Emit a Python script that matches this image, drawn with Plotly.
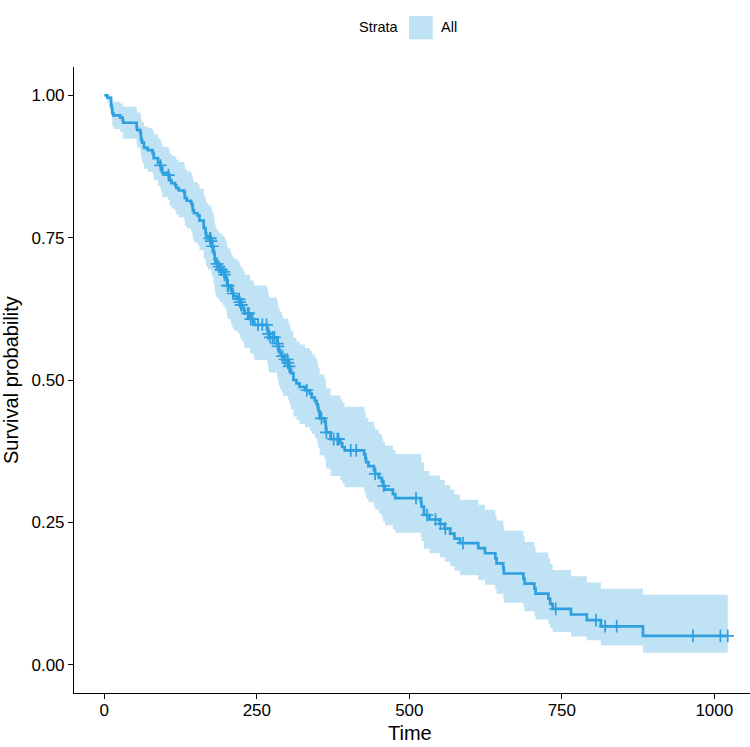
import plotly.graph_objects as go

# Kaplan-Meier estimate (event times, survival, 95% CI)
time = [5, 11, 12, 13, 15, 26, 30, 31, 53, 54, 59, 60, 61, 62, 65, 71, 79, 81, 88, 92,
        93, 95, 105, 107, 110, 116, 118, 122, 131, 132, 135, 142, 144, 145, 147, 153, 156, 163, 166, 167,
        170, 175, 176, 177, 179, 180, 181, 182, 183, 186, 189, 194, 197, 199, 201, 202, 207, 208, 210, 212,
        218, 222, 223, 226, 229, 230, 239, 245, 246, 267, 268, 269, 270, 283, 284, 285, 286, 288, 291, 293,
        301, 303, 305, 306, 310, 315, 320, 329, 337, 340, 345, 348, 350, 351, 353, 361, 363, 364, 371, 387, 390,
        394, 426, 428, 429, 433, 442, 444, 450, 455, 457, 460, 473, 477, 519, 520, 524, 533, 550, 558, 567,
        574, 583, 613, 624, 641, 643, 654, 655, 687, 689, 705, 707, 728, 731, 735, 765, 791, 814, 883]
surv = [0.996, 0.982, 0.978, 0.969, 0.965, 0.961, 0.956, 0.952, 0.943, 0.939, 0.934, 0.925, 0.921, 0.917, 0.908, 0.904, 0.899, 0.890, 0.882, 0.877,
        0.873, 0.864, 0.860, 0.851, 0.846, 0.842, 0.837, 0.833, 0.829, 0.820, 0.815, 0.811, 0.806, 0.798, 0.793, 0.789, 0.780, 0.767, 0.758, 0.753,
        0.749, 0.744, 0.740, 0.735, 0.726, 0.722, 0.713, 0.708, 0.704, 0.699, 0.694, 0.690, 0.685, 0.680, 0.671, 0.666, 0.661, 0.657, 0.652, 0.647,
        0.642, 0.637, 0.632, 0.627, 0.622, 0.617, 0.607, 0.602, 0.597, 0.591, 0.586, 0.581, 0.575, 0.570, 0.564, 0.559, 0.553, 0.547, 0.542, 0.536,
        0.530, 0.524, 0.518, 0.512, 0.500, 0.4939, 0.4880, 0.4820, 0.4761, 0.4692, 0.4633, 0.4574, 0.4514, 0.4455, 0.4327, 0.4267, 0.4149, 0.4080, 0.3961, 0.3892, 0.3823,
        0.3764, 0.3694, 0.3625, 0.3556, 0.3487, 0.3418, 0.3349, 0.3279, 0.3210, 0.3141, 0.3072, 0.2993, 0.2924, 0.2855, 0.2776, 0.2628, 0.2549, 0.2470, 0.2390, 0.2302,
        0.2213, 0.2134, 0.2045, 0.1956, 0.1867, 0.1778, 0.1689, 0.1600, 0.1511, 0.1422, 0.1334, 0.1245, 0.1156, 0.1067, 0.0978, 0.0879, 0.0780, 0.0672, 0.0504]
lower = [0.987, 0.966, 0.959, 0.947, 0.941, 0.936, 0.930, 0.924, 0.913, 0.908, 0.903, 0.892, 0.887, 0.881, 0.871, 0.866, 0.861, 0.851, 0.841, 0.836,
         0.831, 0.821, 0.816, 0.806, 0.801, 0.796, 0.791, 0.786, 0.781, 0.771, 0.766, 0.761, 0.757, 0.747, 0.742, 0.737, 0.728, 0.713, 0.704, 0.699,
         0.694, 0.690, 0.685, 0.680, 0.670, 0.666, 0.656, 0.651, 0.646, 0.642, 0.637, 0.632, 0.627, 0.622, 0.612, 0.607, 0.602, 0.597, 0.592, 0.587,
         0.582, 0.577, 0.572, 0.567, 0.561, 0.556, 0.546, 0.540, 0.535, 0.529, 0.524, 0.518, 0.513, 0.507, 0.501, 0.496, 0.490, 0.484, 0.478, 0.472,
         0.466, 0.460, 0.454, 0.448, 0.436, 0.4293, 0.4229, 0.4170, 0.4111, 0.4052, 0.3983, 0.3924, 0.3865, 0.3806, 0.3678, 0.3619, 0.3500, 0.3441, 0.3314, 0.3245, 0.3185,
         0.3116, 0.3047, 0.2988, 0.2919, 0.2850, 0.2781, 0.2722, 0.2653, 0.2584, 0.2516, 0.2447, 0.2378, 0.2318, 0.2240, 0.2171, 0.2033, 0.1954, 0.1885, 0.1806, 0.1727,
         0.1648, 0.1569, 0.1480, 0.1401, 0.1322, 0.1244, 0.1165, 0.1086, 0.1007, 0.0938, 0.0859, 0.0790, 0.0711, 0.0642, 0.0573, 0.0494, 0.0425, 0.0336, 0.0207]
upper = [1.000, 1.000, 0.997, 0.992, 0.989, 0.986, 0.983, 0.980, 0.974, 0.970, 0.967, 0.960, 0.957, 0.953, 0.946, 0.943, 0.939, 0.932, 0.925, 0.921,
         0.917, 0.910, 0.906, 0.898, 0.894, 0.891, 0.887, 0.883, 0.879, 0.871, 0.867, 0.863, 0.859, 0.852, 0.848, 0.844, 0.836, 0.824, 0.816, 0.811,
         0.807, 0.803, 0.799, 0.795, 0.787, 0.783, 0.774, 0.770, 0.766, 0.761, 0.757, 0.753, 0.749, 0.744, 0.735, 0.731, 0.726, 0.722, 0.717, 0.713,
         0.708, 0.704, 0.699, 0.694, 0.690, 0.685, 0.675, 0.670, 0.666, 0.661, 0.656, 0.651, 0.645, 0.640, 0.635, 0.630, 0.624, 0.619, 0.614, 0.608,
         0.603, 0.597, 0.591, 0.586, 0.574, 0.5682, 0.5622, 0.5563, 0.5513, 0.5453, 0.5394, 0.5334, 0.5275, 0.5216, 0.5096, 0.5037, 0.4908, 0.4849, 0.4729, 0.4660, 0.4601,
         0.4531, 0.4462, 0.4393, 0.4333, 0.4264, 0.4195, 0.4125, 0.4056, 0.3986, 0.3917, 0.3848, 0.3768, 0.3699, 0.3630, 0.3550, 0.3402, 0.3323, 0.3243, 0.3154, 0.3075,
         0.2986, 0.2897, 0.2808, 0.2719, 0.2630, 0.2531, 0.2442, 0.2353, 0.2254, 0.2155, 0.2066, 0.1967, 0.1868, 0.1769, 0.1660, 0.1552, 0.1443, 0.1334, 0.1225]

# censored observations (time, survival at that time)
censor_time = [92, 105, 173, 174, 175, 177, 185, 188, 191, 192, 196, 197, 202, 203, 211, 221, 222, 224, 225, 235,
               237, 240, 243, 252, 259, 266, 269, 272, 276, 279, 284, 285, 292, 296, 300, 301, 303, 332, 356, 364,
               376, 382, 384, 404, 413, 444, 458, 511, 529, 543, 551, 559, 588, 740, 806, 821, 840, 965, 1010, 1022]
censor_surv = [0.877, 0.860, 0.749, 0.749, 0.744, 0.735, 0.704, 0.699, 0.694, 0.694, 0.690, 0.685, 0.666, 0.666, 0.652, 0.642, 0.637, 0.632, 0.632, 0.617,
               0.617, 0.607, 0.607, 0.597, 0.597, 0.597, 0.581, 0.575, 0.575, 0.575, 0.564, 0.559, 0.542, 0.536, 0.536, 0.530, 0.524, 0.4820, 0.4327, 0.4080,
               0.3961, 0.3961, 0.3961, 0.3764, 0.3764, 0.3349, 0.3141, 0.2924, 0.2628, 0.2549, 0.2470, 0.2390, 0.2134, 0.0978, 0.0780, 0.0672, 0.0672, 0.0504, 0.0504, 0.0504]

max_time = 1022
x_ticks = [0, 250, 500, 750, 1000]
y_ticks = [0, 0.25, 0.5, 0.75, 1.0]
y_tick_labels = ["0.00", "0.25", "0.50", "0.75", "1.00"]
strata_name = "All"

COL = "#2E9FDF"
BAND = "rgba(46,159,223,0.3)"
FONT = "Liberation Sans, Arial, sans-serif"

xs = [0] + time + [max_time]
ys = [1.0] + surv + [surv[-1]]
lo = [1.0] + lower + [lower[-1]]
hi = [1.0] + upper + [upper[-1]]

fig = go.Figure()
fig.add_trace(go.Scatter(x=xs, y=lo, mode="lines", line=dict(width=0, shape="hv", color=BAND),
                         showlegend=False, hoverinfo="skip"))
fig.add_trace(go.Scatter(x=xs, y=hi, mode="lines", line=dict(width=0, shape="hv", color=BAND),
                         fill="tonexty", fillcolor=BAND, showlegend=False, hoverinfo="skip"))
fig.add_trace(go.Scatter(x=xs, y=ys, mode="lines", line=dict(width=2.7, shape="hv", color=COL),
                         name=strata_name, showlegend=False))
fig.add_trace(go.Scatter(x=censor_time, y=censor_surv, mode="markers",
                         marker=dict(symbol="cross-thin", size=9, line=dict(width=1.7, color=COL)),
                         showlegend=False, hoverinfo="skip"))

# plot-area geometry (pixels)
L, R, T_, B = 74, 750, 67, 693
W, H = R - L, B - T_
def px(x): return (x - L) / W
def py(y): return (B - y) / H

axis_common = dict(showline=True, linecolor="black", linewidth=1.1, ticks="outside", ticklen=5,
                   tickwidth=1.1, tickcolor="black", showgrid=False, zeroline=False,
                   tickfont=dict(family=FONT, size=17, color="black"))
fig.update_xaxes(range=[-49.7, 1058.5], tickvals=x_ticks, ticktext=[str(v) for v in x_ticks],
                 ticklabelstandoff=-3, **axis_common)
fig.update_yaxes(range=[-0.05, 1.05], tickvals=y_ticks, ticktext=y_tick_labels, **axis_common)

fig.update_layout(
    width=750, height=747,
    margin=dict(l=L, r=750 - R, t=T_, b=747 - B, pad=0),
    plot_bgcolor="white", paper_bgcolor="white",
    font=dict(family=FONT, color="black"),
    showlegend=False,
    annotations=[
        dict(text="Time", x=px(410), y=py(733), xref="paper", yref="paper", xanchor="center", yanchor="middle",
             showarrow=False, font=dict(family=FONT, size=20, color="black")),
        dict(text="Survival probability", x=px(11), y=py(380), xref="paper", yref="paper", xanchor="center",
             yanchor="middle", textangle=-90, showarrow=False, font=dict(family=FONT, size=20, color="black")),
        dict(text="Strata", x=px(401), y=py(27.5), xref="paper", yref="paper", xanchor="right", yanchor="middle",
             showarrow=False, font=dict(family=FONT, size=14.5, color="black")),
        dict(text=strata_name, x=px(439), y=py(27.5), xref="paper", yref="paper", xanchor="left", yanchor="middle",
             showarrow=False, font=dict(family=FONT, size=14.5, color="black")),
    ],
    shapes=[
        dict(type="rect", xref="paper", yref="paper", x0=px(409), x1=px(432.7), y0=py(39.3), y1=py(16),
             fillcolor=BAND, line=dict(width=0)),
    ],
)
fig.write_html("out.html")
